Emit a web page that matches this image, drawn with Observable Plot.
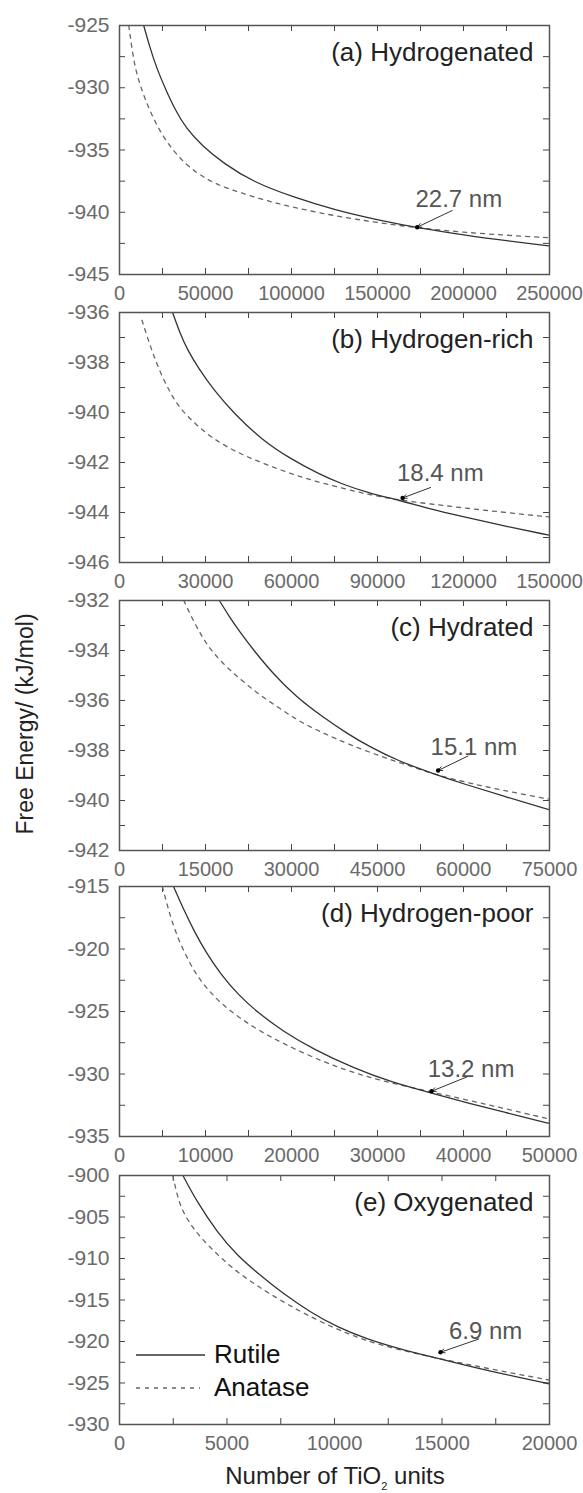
<!DOCTYPE html>
<html><head><meta charset="utf-8">
<script src="https://cdn.jsdelivr.net/npm/d3@7"></script>
<script src="https://cdn.jsdelivr.net/npm/@observablehq/plot@0.6"></script>
<style>
html,body{margin:0;padding:0;background:#fff;}
#wrap{position:relative;width:583px;height:1493px;overflow:hidden;font-family:"Liberation Sans",Arial,sans-serif;}
#wrap svg.panel{position:absolute;left:0;}
.ytitle{position:absolute;left:25px;top:724px;transform:translate(-50%,-50%) rotate(-90deg);white-space:nowrap;font-size:23px;color:#222;}
.xtitle{position:absolute;left:335px;top:1477px;transform:translate(-50%,-50%);white-space:nowrap;font-size:24px;color:#222;}
.xtitle sub{font-size:11px;vertical-align:-6px;}
.legend{position:absolute;left:136px;top:1338px;font-size:26px;color:#111;}
.legend .row{display:flex;align-items:center;height:33px;}
.legend svg{width:78px;height:10px;}
</style></head><body>
<div id="wrap">
  <div class="ytitle">Free Energy/ (kJ/mol)</div>
  <div class="xtitle">Number of TiO<sub>2</sub> units</div>
</div>
<script>
// ---- data ----
const panelTitles = ["(a) Hydrogenated", "(b) Hydrogen-rich", "(c) Hydrated", "(d) Hydrogen-poor", "(e) Oxygenated"];
const seriesNames = ["Rutile", "Anatase"];

const xDomains = [[0, 250000], [0, 150000], [0, 75000], [0, 50000], [0, 20000]];
const yDomains = [[-945, -925], [-946, -936], [-942, -932], [-935, -915], [-930, -900]];

const xTickLabels = [
  [0, 50000, 100000, 150000, 200000, 250000],
  [0, 30000, 60000, 90000, 120000, 150000],
  [0, 15000, 30000, 45000, 60000, 75000],
  [0, 10000, 20000, 30000, 40000, 50000],
  [0, 5000, 10000, 15000, 20000]
];
const yTickLabels = [
  [-945, -940, -935, -930, -925],
  [-946, -944, -942, -940, -938, -936],
  [-942, -940, -938, -936, -934, -932],
  [-935, -930, -925, -920, -915],
  [-930, -925, -920, -915, -910, -905, -900]
];
const xMinorStep = [25000, 15000, 7500, 5000, 2500];
const yMinorStep = [2.5, 1, 1, 2.5, 2.5];

// Rutile (solid) and Anatase (dashed): [N, free energy]
const rutileA = [[14070,-925],[17300,-926.59],[21600,-928.44],[27050,-930.2],[32470,-931.8],[38960,-933.3],[47620,-934.6],[60600,-936.1],[77900,-937.58],[100650,-938.77],[125540,-939.83],[150430,-940.63],[175330,-941.29],[200220,-941.82],[225100,-942.3],[250000,-942.7]];
const anataseA = [[5410,-925],[6930,-926.59],[9090,-928.44],[12550,-930.03],[17320,-931.8],[25970,-934.2],[38960,-936.3],[51950,-937.45],[60600,-938.0],[82250,-938.96],[100650,-939.6],[125540,-940.31],[150430,-940.84],[175330,-941.29],[200220,-941.61],[225100,-941.85],[250000,-942.05]];

const rutileB = [[18520,-936],[21130,-936.84],[23740,-937.5],[27650,-938.25],[32870,-939.1],[40040,-940.05],[49830,-941.11],[59610,-941.85],[69390,-942.45],[77220,-942.85],[87650,-943.25],[97430,-943.5],[108520,-943.87],[119600,-944.16],[134600,-944.55],[150000,-944.91]];
const anataseB = [[7830,-936.31],[10040,-937.1],[12000,-937.75],[14610,-938.5],[17870,-939.25],[21130,-939.84],[25700,-940.37],[30260,-940.84],[35480,-941.24],[40700,-941.57],[45910,-941.84],[56350,-942.31],[65480,-942.66],[75910,-942.98],[87650,-943.3],[97430,-943.5],[108520,-943.66],[119600,-943.81],[134600,-944.0],[150000,-944.18]];

const rutileC = [[17410,-932],[19040,-932.6],[21000,-933.27],[23610,-934.05],[26870,-934.95],[30780,-935.85],[35350,-936.65],[39910,-937.35],[43500,-937.83],[48390,-938.4],[55240,-938.97],[59810,-939.32],[67300,-939.85],[75000,-940.37]];
const anataseC = [[11220,-932],[12520,-932.65],[14150,-933.35],[15780,-933.95],[18390,-934.6],[20350,-935.0],[22630,-935.45],[24910,-935.85],[27850,-936.3],[30130,-936.65],[32740,-937.0],[36000,-937.35],[39910,-937.75],[45780,-938.25],[51000,-938.65],[55240,-938.97],[59480,-939.22],[62740,-939.39],[66650,-939.58],[70570,-939.76],[75000,-939.95]];

const rutileD = [[6280,-915],[7360,-916.7],[8660,-918.55],[9960,-920.15],[11690,-921.95],[13850,-923.7],[16020,-925.05],[19050,-926.6],[22510,-928.0],[27270,-929.55],[31600,-930.65],[36360,-931.55],[40690,-932.35],[45020,-933.1],[49350,-933.85],[50000,-933.95]];
const anataseD = [[4980,-915],[5600,-916.6],[6060,-917.7],[6930,-919.4],[8230,-921.2],[9090,-922.2],[10390,-923.35],[11900,-924.4],[13640,-925.35],[15580,-926.25],[17750,-927.1],[20350,-928.0],[23810,-929.05],[26410,-929.7],[29000,-930.25],[31600,-930.72],[36360,-931.45],[40260,-932.05],[43720,-932.6],[47190,-933.15],[49350,-933.5],[50000,-933.6]];

const rutileE = [[2950,-900],[3612,-903.21],[4543,-906.83],[5473,-909.64],[6558,-912.05],[7643,-914.3],[8884,-916.47],[10124,-918.27],[11519,-919.72],[13070,-920.92],[14620,-921.93],[16171,-922.9],[17721,-923.85],[20000,-925.1]];
const anataseE = [[2480,-900],[2682,-902.41],[2915,-904.2],[3302,-905.9],[3767,-907.45],[4388,-909.1],[5008,-910.6],[5628,-911.9],[6326,-913.15],[7023,-914.3],[7798,-915.5],[8574,-916.6],[9504,-917.8],[10434,-918.85],[11364,-919.8],[12605,-920.75],[14620,-921.93],[16171,-922.75],[17721,-923.55],[20000,-924.65]];

const rutileSeries = [rutileA, rutileB, rutileC, rutileD, rutileE];
const anataseSeries = [anataseA, anataseB, anataseC, anataseD, anataseE];

// crossover annotations
const annoText = ["22.7 nm", "18.4 nm", "15.1 nm", "13.2 nm", "6.9 nm"];
const annoTextPos = [[172090,-938.98],[96780,-942.44],[54260,-937.89],[35840,-929.59],[15320,-918.82]];
const arrowFrom = [[193430,-939.86],[108520,-943.0],[60790,-938.22],[40480,-930.21],[16710,-919.7]];
const arrowTo = [[173080,-941.2],[98740,-943.42],[55570,-938.8],[36280,-931.38],[14930,-921.3]];

// ---- layout ----
const W = 583, ML = 119, MR = 34, MT = 20, MB = 40;
const frameTops = [25, 312, 600, 886, 1175];
const frameBottoms = [274, 562, 850, 1136, 1424];
const TICK = 6;
const wrap = document.getElementById("wrap");
const fmt = d => String(d);

function stepTicks(dom, step) {
  const out = [];
  const n = Math.round((dom[1] - dom[0]) / step);
  for (let k = 0; k <= n; k++) out.push(dom[0] + k * step);
  return out;
}

panelTitles.forEach((title, i) => {
  const H = frameBottoms[i] - frameTops[i];
  const IW = W - ML - MR;
  const xMinor = stepTicks(xDomains[i], xMinorStep[i]);
  const yMinor = stepTicks(yDomains[i], yMinorStep[i]);
  const chart = Plot.plot({
    width: W,
    height: H + MT + MB,
    marginTop: MT, marginBottom: MB, marginLeft: ML, marginRight: MR,
    style: {background: "transparent", overflow: "visible", fontFamily: "'Liberation Sans', Arial, sans-serif"},
    x: {domain: xDomains[i]},
    y: {domain: yDomains[i]},
    marks: [
      Plot.axisX({ticks: xTickLabels[i], tickSize: 0, tickPadding: 11, fontSize: 20, color: "#6a6a6a", tickFormat: fmt, label: null}),
      Plot.axisY({ticks: yTickLabels[i], tickSize: 0, tickPadding: 10, fontSize: 21, color: "#6a6a6a", tickFormat: fmt, label: null}),
      Plot.tickX(xMinor, {x: d => d, insetTop: H - TICK, stroke: "#444"}),
      Plot.tickX(xMinor, {x: d => d, insetBottom: H - TICK, stroke: "#444"}),
      Plot.tickY(yMinor, {y: d => d, insetRight: IW - TICK, stroke: "#444"}),
      Plot.tickY(yMinor, {y: d => d, insetLeft: IW - TICK, stroke: "#444"}),
      Plot.line(anataseSeries[i], {x: d => d[0], y: d => d[1], curve: "basis", stroke: "#666", strokeWidth: 1.3, strokeDasharray: "4,5", clip: true}),
      Plot.line(rutileSeries[i], {x: d => d[0], y: d => d[1], curve: "basis", stroke: "#333", strokeWidth: 1.3, clip: true}),
      Plot.arrow([0], {x1: arrowFrom[i][0], y1: arrowFrom[i][1], x2: arrowTo[i][0], y2: arrowTo[i][1], stroke: "#333", strokeWidth: 1, headLength: 7, headAngle: 50}),
      Plot.dot([0], {x: arrowTo[i][0], y: arrowTo[i][1], r: 2.2, fill: "#000"}),
      Plot.text([annoText[i]], {x: annoTextPos[i][0], y: annoTextPos[i][1], text: d => d, textAnchor: "start", lineAnchor: "middle", fontSize: 24, fill: "#555"}),
      Plot.text([title], {frameAnchor: "top-right", dx: -16, dy: 27, text: d => d, textAnchor: "end", lineAnchor: "middle", fontSize: 26, fill: "#222"}),
      Plot.frame({stroke: "#555", strokeWidth: 1.5})
    ]
  });
  chart.classList.add("panel");
  chart.style.top = (frameTops[i] - MT) + "px";
  wrap.appendChild(chart);
});

// legend (inside panel e)
const legend = document.createElement("div");
legend.className = "legend";
legend.innerHTML = seriesNames.map((name, k) =>
  `<div class="row"><svg viewBox="0 0 78 10"><line x1="0" x2="${k === 0 ? 69 : 64}" y1="5" y2="5" stroke="${k === 0 ? '#333' : '#666'}" stroke-width="1.3" ${k === 1 ? 'stroke-dasharray="4,5"' : ''}/></svg><span>${name}</span></div>`
).join("");
wrap.appendChild(legend);
</script>
</body></html>
